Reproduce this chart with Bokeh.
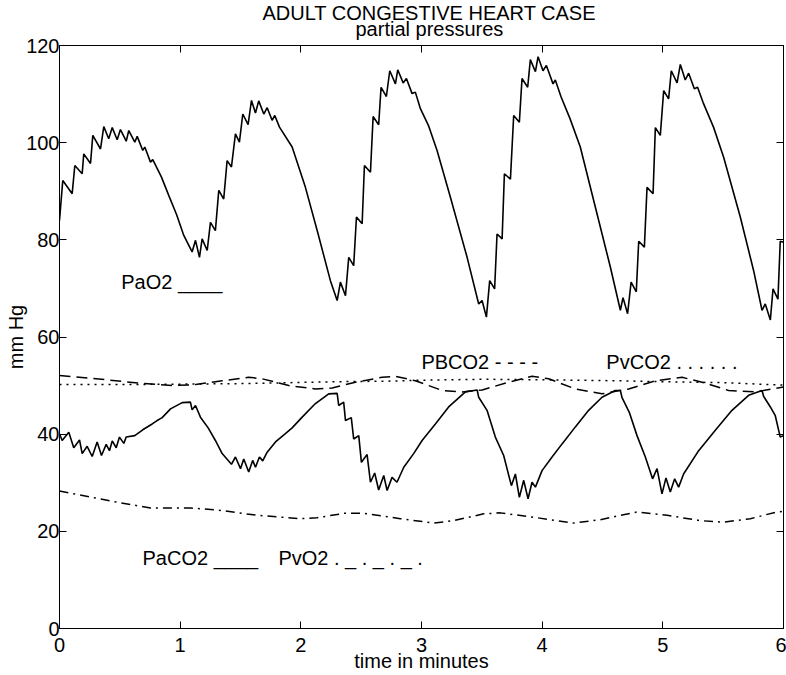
from bokeh.plotting import figure
from bokeh.models import LinearAxis, Range1d, Title, Label, FixedTicker
from bokeh.embed import file_html
from bokeh.resources import INLINE

# ---------------- data ----------------
x_ticks = [0, 1, 2, 3, 4, 5, 6]
y_ticks = [0, 20, 40, 60, 80, 100, 120]

pao2_t = [0.000, 0.027, 0.105, 0.127, 0.188, 0.201, 0.257, 0.276, 0.340, 0.367,
          0.408, 0.437, 0.478, 0.505, 0.553, 0.574, 0.624, 0.644, 0.690, 0.707,
          0.754, 0.773, 0.845, 0.906, 0.970, 1.030, 1.099, 1.127, 1.160, 1.182, 1.224,
          1.251, 1.292, 1.320, 1.361, 1.389, 1.425, 1.458, 1.491, 1.519, 1.563,
          1.591, 1.624, 1.651, 1.693, 1.721, 1.762, 1.784, 1.823, 1.928, 2.038,
          2.140, 2.245, 2.301, 2.328, 2.370, 2.397, 2.438, 2.461, 2.508, 2.527, 2.577,
          2.599, 2.645, 2.665, 2.709, 2.737, 2.784, 2.803, 2.848, 2.875, 2.922,
          2.949, 2.991, 3.060, 3.129, 3.239, 3.378, 3.474, 3.502, 3.538, 3.565, 3.606,
          3.626, 3.668, 3.687, 3.737, 3.764, 3.811, 3.833, 3.880, 3.902, 3.944,
          3.966, 4.007, 4.035, 4.090, 4.109, 4.157, 4.230, 4.316, 4.441, 4.565, 4.648,
          4.670, 4.708, 4.737, 4.780, 4.800, 4.847, 4.869, 4.919, 4.938, 4.979,
          5.007, 5.048, 5.070, 5.118, 5.145, 5.186, 5.214, 5.261, 5.288, 5.333,
          5.420, 5.504, 5.642, 5.752, 5.822, 5.849, 5.891, 5.913, 5.954, 5.973, 6.000]
pao2_v = [84.0, 92.2, 89.5, 95.3, 93.6, 97.7, 95.7, 101.5, 98.7, 103.3,
          100.8, 103.1, 100.6, 102.7, 100.3, 102.5, 100.1, 101.3, 98.4, 99.1,
          96.0, 96.5, 92.9, 89.1, 85.2, 80.9, 77.5, 79.9, 76.4, 80.2, 77.8,
          83.6, 81.9, 90.2, 88.4, 96.3, 95.0, 101.8, 100.1, 105.9, 103.7,
          108.7, 106.1, 108.6, 105.9, 107.2, 104.6, 105.6, 103.2, 99.1, 90.8,
          81.5, 71.6, 67.5, 71.3, 68.5, 76.4, 74.7, 84.7, 83.3, 95.3, 93.9,
          105.4, 103.7, 111.4, 109.5, 114.8, 112.1, 115.0, 112.3, 113.2, 110.1,
          110.4, 107.0, 103.4, 98.4, 88.8, 76.4, 66.8, 67.5, 64.1, 71.6, 69.9,
          81.2, 80.2, 93.6, 92.5, 105.6, 104.2, 113.2, 111.4, 117.1, 114.6,
          117.7, 114.8, 115.9, 112.1, 112.9, 109.4, 105.0, 99.1, 86.7, 74.4, 65.5,
          68.1, 64.8, 71.3, 69.3, 79.7, 78.5, 90.8, 89.5, 103.1, 101.5,
          110.7, 109.0, 114.8, 112.3, 116.1, 112.9, 114.3, 111.1, 111.4, 108.3,
          103.2, 97.0, 84.7, 73.7, 65.5, 66.8, 63.5, 69.9, 67.8, 79.7, 79.5]

paco2_t = [0.000, 0.022, 0.077, 0.118, 0.166, 0.188, 0.229, 0.271, 0.312, 0.348,
           0.387, 0.414, 0.437, 0.470, 0.497, 0.533, 0.553, 0.624, 0.690, 0.768,
           0.809, 0.851, 0.920, 1.017, 1.085, 1.099, 1.127, 1.168, 1.232, 1.292,
           1.348, 1.425, 1.458, 1.500, 1.527, 1.568, 1.601, 1.624, 1.657, 1.684,
           1.721, 1.790, 1.872, 1.928, 2.011, 2.121, 2.231, 2.301, 2.314, 2.355,
           2.370, 2.418, 2.438, 2.480, 2.502, 2.549, 2.577, 2.612, 2.645, 2.687,
           2.715, 2.756, 2.797, 2.853, 2.935, 3.005, 3.115, 3.225, 3.364, 3.461,
           3.474, 3.543, 3.612, 3.681, 3.745, 3.778, 3.811, 3.847, 3.883, 3.916,
           3.944, 3.999, 4.082, 4.165, 4.275, 4.385, 4.496, 4.606, 4.648, 4.662,
           4.722, 4.786, 4.855, 4.915, 4.952, 4.993, 5.026, 5.062, 5.098, 5.131,
           5.172, 5.297, 5.435, 5.573, 5.711, 5.822, 5.835, 5.891, 5.932, 5.973,
           6.000]
paco2_v = [40.1, 38.7, 40.4, 37.2, 38.8, 36.0, 37.5, 35.4, 38.4, 35.6,
           37.9, 36.6, 38.6, 37.2, 39.4, 38.1, 39.4, 39.7, 40.9, 42.1,
           42.8, 43.4, 45.2, 46.5, 46.6, 45.0, 45.9, 43.5, 41.3, 38.7,
           36.0, 33.8, 35.3, 32.9, 34.9, 32.2, 34.6, 33.2, 35.3, 34.5,
           36.3, 38.4, 40.1, 41.3, 43.5, 46.3, 48.3, 48.4, 45.9, 46.6,
           42.8, 43.4, 39.0, 39.7, 34.2, 35.8, 30.1, 32.0, 28.5, 31.5,
           28.4, 31.1, 30.1, 33.2, 36.0, 38.7, 42.1, 45.6, 48.7, 49.1,
           47.6, 44.9, 39.4, 35.6, 29.4, 31.8, 27.0, 30.5, 26.7, 30.1,
           29.1, 32.5, 35.3, 38.0, 41.5, 44.9, 47.6, 49.0, 49.0, 47.5,
           44.5, 39.7, 35.3, 30.8, 32.9, 27.7, 31.0, 28.1, 30.8, 29.1,
           31.8, 36.6, 40.8, 44.9, 48.0, 49.0, 47.8, 45.6, 43.8, 39.4,
           39.7]

pbco2_t = [0.000, 0.390, 0.657, 0.933, 1.127, 1.348, 1.568, 1.679, 1.900, 2.121,
           2.259, 2.452, 2.674, 2.785, 2.949, 3.171, 3.337, 3.503, 3.723, 3.916,
           4.054, 4.275, 4.496, 4.717, 4.938, 5.159, 5.325, 5.545, 5.767, 6.000]
pbco2_v = [52.1, 51.2, 50.5, 50.0, 50.2, 51.0, 51.7, 51.4, 50.0, 49.3,
           49.5, 50.7, 51.7, 51.9, 51.0, 49.0, 48.7, 49.1, 50.7, 51.9,
           51.4, 49.3, 48.3, 49.3, 51.0, 51.7, 50.7, 49.0, 48.7, 49.7]

pvco2_t = [0.0, 0.5, 1.0, 1.5, 1.9, 2.3, 2.7, 3.0, 3.5, 4.0, 4.6, 5.0, 5.5, 6.0]
pvco2_v = [50.2, 50.2, 50.3, 50.4, 50.6, 50.8, 50.9, 51.1, 51.3, 51.2, 51.0, 50.8, 50.6, 50.1]

pvo2_t = [0.000, 0.478, 0.754, 1.085, 1.306, 1.638, 1.997, 2.135, 2.356, 2.522,
          2.825, 3.101, 3.267, 3.516, 3.654, 3.930, 4.261, 4.482, 4.786, 5.035,
          5.311, 5.503, 5.725, 5.946, 6.000]
pvo2_v = [28.3, 26.0, 24.8, 24.8, 24.4, 23.3, 22.6, 22.8, 23.7, 23.7,
          22.6, 21.7, 22.2, 23.6, 23.8, 22.9, 21.7, 22.4, 24.0, 23.3,
          22.2, 21.9, 22.6, 24.0, 24.1]

# ---------------- figure ----------------
FONT = "Liberation Sans"
FS = "20px"

p = figure(width=786, height=675, output_backend="svg", toolbar_location=None,
           x_range=Range1d(0, 6), y_range=Range1d(0, 120), title=None,
           min_border_left=59, min_border_right=3, min_border_top=45,
           min_border_bottom=47, background_fill_color="white",
           border_fill_color="white")
p.grid.visible = False
p.outline_line_color = "black"
p.outline_line_width = 1

for ax, ticks in ((p.xaxis[0], x_ticks), (p.yaxis[0], y_ticks)):
    ax.ticker = FixedTicker(ticks=ticks)
    ax.major_tick_in = 7
    ax.major_tick_out = 0
    ax.minor_tick_in = 0
    ax.minor_tick_out = 0
    ax.axis_line_color = "black"
    ax.major_tick_line_color = "black"
    ax.major_label_text_font = FONT
    ax.major_label_text_font_size = FS
    ax.major_label_text_color = "black"
    ax.axis_label_text_font = FONT
    ax.axis_label_text_font_size = FS
    ax.axis_label_text_font_style = "normal"
    ax.axis_label_text_color = "black"

p.xaxis.axis_label = "time in minutes"
p.xaxis.major_label_standoff = 9
p.xaxis.axis_label_standoff = -5
p.yaxis.axis_label = "mm Hg"
p.yaxis.major_label_standoff = 0
p.yaxis.axis_label_standoff = -4

# box ticks on top and right (no labels drawn)
top = LinearAxis(ticker=FixedTicker(ticks=x_ticks), major_tick_in=7, major_tick_out=0,
                 minor_tick_in=0, minor_tick_out=0, major_label_standoff=0,
                 major_label_text_font_size="1px", major_label_text_color=None,
                 axis_line_color="black")
right = LinearAxis(ticker=FixedTicker(ticks=y_ticks), major_tick_in=7, major_tick_out=0,
                   minor_tick_in=0, minor_tick_out=0, major_label_standoff=0,
                   major_label_text_font_size="1px", major_label_text_color=None,
                   axis_line_color="black")
p.add_layout(top, "above")
p.add_layout(right, "right")

# titles (first added sits nearest the frame)
p.add_layout(Title(text="partial pressures", align="left", offset=296,
                   text_font=FONT, text_font_size=FS, text_font_style="normal",
                   text_color="black", standoff=11), "above")
p.add_layout(Title(text="ADULT CONGESTIVE HEART CASE", align="left", offset=203,
                   text_font=FONT, text_font_size=FS, text_font_style="normal",
                   text_color="black", standoff=-27), "above")

# curves
p.line(pao2_t, pao2_v, line_color="black", line_width=1.6)
p.line(paco2_t, paco2_v, line_color="black", line_width=1.6)
p.line(pbco2_t, pbco2_v, line_color="black", line_width=1.5, line_dash="11 6")
p.line(pvco2_t, pvco2_v, line_color="black", line_width=1.5, line_dash="2 5")
p.line(pvo2_t, pvo2_v, line_color="black", line_width=1.5, line_dash="9 5 2 5")

# inline labels
labels = [
    (0.512, 71.3, "PaO2 ____"),
    (2.999, 54.8, "PBCO2 - - - -"),
    (4.532, 54.8, "PvCO2 . . . . . ."),
    (0.688, 14.6, "PaCO2 ____"),
    (1.814, 14.6, "PvO2 . _ . _ . _ ."),
]
for lx, ly, txt in labels:
    p.add_layout(Label(x=lx, y=ly, text=txt, text_font=FONT, text_font_size=FS,
                       text_color="black", text_baseline="alphabetic",
                       text_align="left"))

open("out.html", "w").write(file_html(p, INLINE))
